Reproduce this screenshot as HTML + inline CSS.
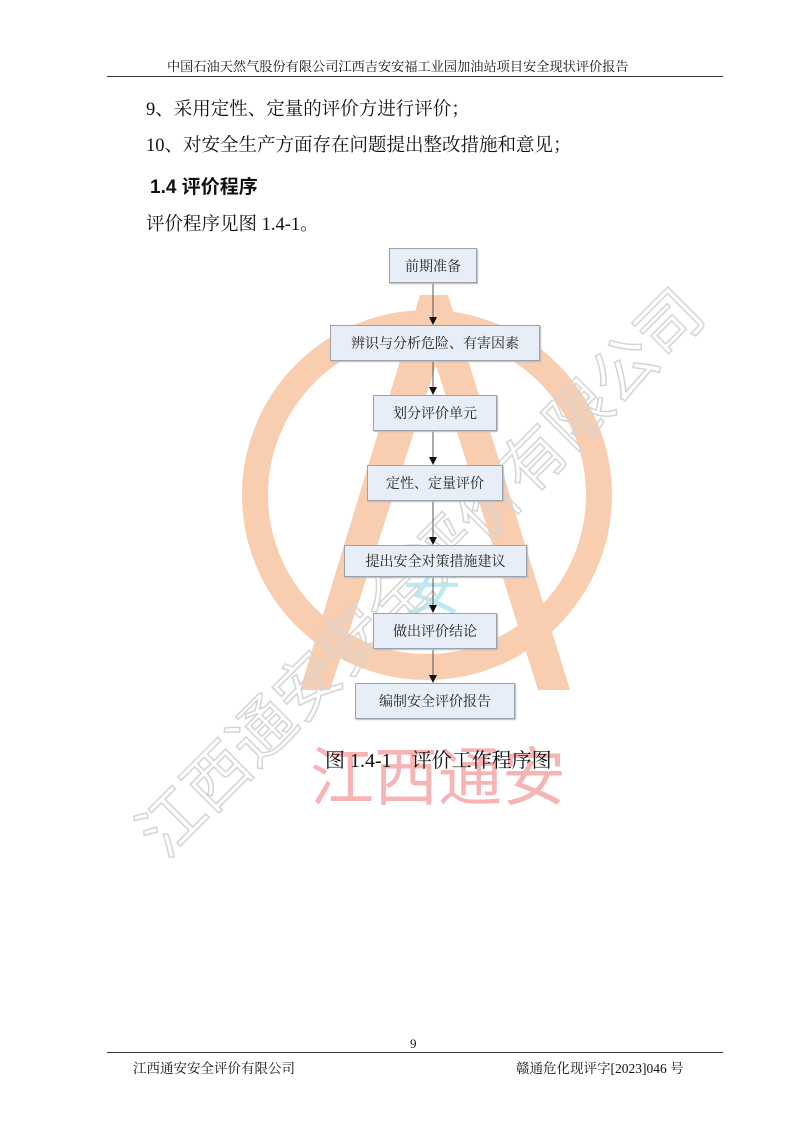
<!DOCTYPE html>
<html><head><meta charset="utf-8"><style>
body{margin:0;width:800px;height:1131px;background:#fff;position:relative;overflow:hidden;font-family:"Liberation Serif","Noto Serif CJK SC",serif;color:#111}
.a{position:absolute;white-space:nowrap}
.box{position:absolute;background:#e8eef7;border:1px solid #9aa3ad;box-sizing:border-box;display:flex;align-items:center;justify-content:center;font-size:14px;color:#222;box-shadow:1px 1px 1px #bbb}
</style></head><body>
<svg class="a" style="left:0;top:0" width="800" height="1131">
 <circle cx="427" cy="495" r="172" fill="none" stroke="#f9cdb0" stroke-width="26"/>
 <polygon points="420,295 448,295 570,690 538,690 436,365 330,690 300,690" fill="#f9cdb0"/>
 <text x="432" y="610" font-size="60" fill="#bfe8f0" text-anchor="middle" font-family="Liberation Sans,Noto Sans CJK SC,sans-serif">安</text>
 <text x="438" y="800" font-size="64" fill="#f6b4b4" text-anchor="middle" font-family="Liberation Sans,Noto Sans CJK SC,sans-serif">江西通安</text>
 <text x="0" y="0" font-size="64" fill="none" stroke="#d4d4d4" stroke-width="1.5" font-family="Noto Sans CJK SC,sans-serif" transform="translate(165,860) rotate(-45)">江西通安安全评价有限公司</text>
 <g stroke="#555" stroke-width="1">
  <line x1="433" y1="283" x2="433" y2="318"/><line x1="433" y1="361" x2="433" y2="388"/>
  <line x1="433" y1="431" x2="433" y2="458"/><line x1="433" y1="501" x2="433" y2="538"/>
  <line x1="433" y1="577" x2="433" y2="606"/><line x1="433" y1="649" x2="433" y2="676"/>
 </g>
 <g fill="#111">
  <polygon points="429,317 437,317 433,325"/><polygon points="429,387 437,387 433,395"/>
  <polygon points="429,457 437,457 433,465"/><polygon points="429,537 437,537 433,545"/>
  <polygon points="429,605 437,605 433,613"/><polygon points="429,675 437,675 433,683"/>
 </g>
</svg>
<div class="a" style="left:167px;top:56px;font-size:13.2px">中国石油天然气股份有限公司江西吉安安福工业园加油站项目安全现状评价报告</div>
<div class="a" style="left:107px;top:76px;width:616px;border-top:1.5px solid #333"></div>
<div class="a" style="left:146px;top:95px;font-size:18.5px">9、采用定性、定量的评价方进行评价；</div>
<div class="a" style="left:146px;top:131px;font-size:18.5px">10、对安全生产方面存在问题提出整改措施和意见；</div>
<div class="a" style="left:150px;top:172px;font-size:19px;font-weight:bold;font-family:'Liberation Sans','Noto Sans CJK SC',sans-serif">1.4 评价程序</div>
<div class="a" style="left:146px;top:210px;font-size:18.5px">评价程序见图 1.4-1。</div>
<div class="box" style="left:389px;top:248px;width:88px;height:35px">前期准备</div>
<div class="box" style="left:330px;top:325px;width:210px;height:36px">辨识与分析危险、有害因素</div>
<div class="box" style="left:373px;top:395px;width:124px;height:36px">划分评价单元</div>
<div class="box" style="left:367px;top:465px;width:136px;height:36px">定性、定量评价</div>
<div class="box" style="left:344px;top:545px;width:183px;height:32px">提出安全对策措施建议</div>
<div class="box" style="left:373px;top:613px;width:124px;height:36px">做出评价结论</div>
<div class="box" style="left:355px;top:683px;width:160px;height:36px">编制安全评价报告</div>
<div class="a" style="left:325px;top:744px;font-size:20px">图 1.4-1　评价工作程序图</div>
<div class="a" style="left:410px;top:1036px;font-size:13px">9</div>
<div class="a" style="left:107px;top:1052px;width:616px;border-top:1.2px solid #333"></div>
<div class="a" style="left:133px;top:1057px;font-size:13.5px">江西通安安全评价有限公司</div>
<div class="a" style="left:516px;top:1057px;font-size:13.5px">赣通危化现评字[2023]046 号</div>
</body></html>
